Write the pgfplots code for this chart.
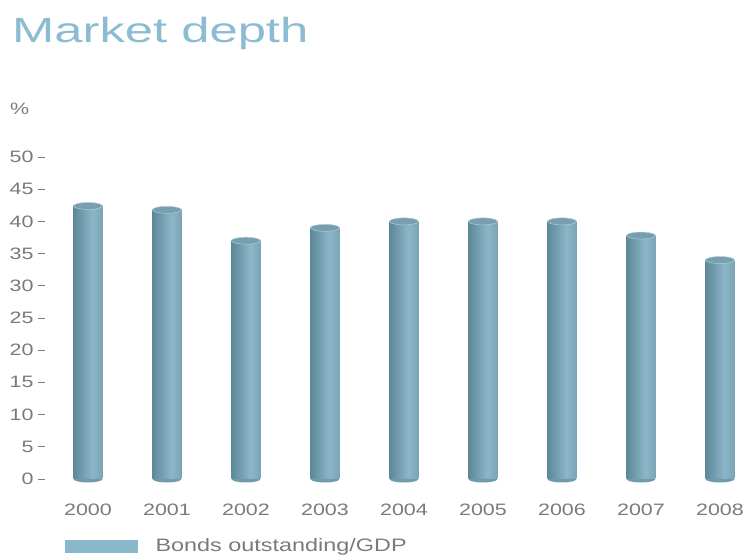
\documentclass[border=0pt]{standalone}
\usepackage{fontspec}
\setmainfont{Liberation Sans}[FakeStretch=1.3]
\newfontfamily\titlefont{Liberation Sans}[FakeStretch=1.45]
\usepackage{pgfplots}
\usepackage{pgfplotstable}
\pgfplotsset{compat=1.18}
\definecolor{titleblue}{HTML}{8CBCD2}
\definecolor{legblue}{HTML}{89B7CC}
\definecolor{cylA}{HTML}{5C889A}
\definecolor{cylB}{HTML}{8DB7C9}
\definecolor{cylC}{HTML}{7AA3B5}
\definecolor{cylTop}{HTML}{779FB0}
\definecolor{txtgray}{HTML}{7A7A7A}
\pgfdeclarehorizontalshading{cyl}{100bp}{color(0bp)=(cylA); color(25bp)=(cylA); color(58bp)=(cylB); color(75bp)=(cylC); color(100bp)=(cylC)}
\pgfdeclareplotmark{cyltop}{%
  \pgfpathellipse{\pgfpointorigin}{\pgfpoint{14.5bp}{0bp}}{\pgfpoint{0bp}{3.5bp}}%
  \pgfusepathqfillstroke}
\pgfdeclareplotmark{cylbottom}{%
  \pgfpathmoveto{\pgfpoint{-14.5bp}{0bp}}%
  \pgfpatharc{180}{360}{14.5bp and 3.5bp}%
  \pgfpathclose
  \pgfusepathqfill}
\pgfplotstableread{
x y z
0 42.4 0
1 41.8 0
2 37.0 0
3 39.0 0
4 40.0 0
5 40.0 0
6 40.0 0
7 37.8 0
8 34.0 0
}\datatable
\begin{document}
\begin{tikzpicture}
\useasboundingbox (0,0) rectangle (747bp,558bp);
\node[anchor=base west, inner sep=0pt, text=titleblue, font=\titlefont\fontsize{35bp}{40bp}\selectfont] at (12bp,515bp) {Market depth};
\node[anchor=base west, inner sep=0pt, text=txtgray, font=\fontsize{16.5bp}{18bp}\selectfont] at (10bp,443bp) {\%};
\begin{axis}[
  at={(45bp,79bp)}, anchor=south west,
  scale only axis,
  width=702bp, height=322bp,
  xmin=-0.544, xmax=8.342,
  ymin=0, ymax=50,
  clip=false,
  axis lines=left,
  axis line style={draw=none},
  xtick={0,...,8},
  xticklabels={2000,2001,2002,2003,2004,2005,2006,2007,2008},
  ytick={0,5,...,50},
  xtick style={draw=none},
  ytick style={draw=txtgray, line width=0.7bp},
  tick align=outside,
  major tick length=7bp,
  tick label style={font=\fontsize{16.5bp}{18bp}\selectfont, text=txtgray},
  /pgf/number format/assume math mode=true,
  xticklabel style={yshift=-14bp},
  yticklabel style={xshift=-1bp},
  legend style={at={(axis description cs:0.0285,-0.208)}, anchor=west, draw=none, fill=none,
    font=\fontsize{18bp}{20bp}\selectfont, text=txtgray, inner sep=0pt,
    /tikz/every odd column/.append style={column sep=16bp}},
]
\addplot[only marks, mark=cylbottom, mark options={fill=cylA!60!cylB}, forget plot] table[x=x, y=z] {\datatable};
\pgfplotsinvokeforeach{0,...,8}{
  \addplot[ybar, bar width=29bp, draw=none, shading=cyl, forget plot,
    x filter/.expression={abs(x-#1)<0.1 ? x : nan}] table[x=x, y=y] {\datatable};
}
\addplot[only marks, mark=cyltop, mark options={fill=cylTop, draw=cylB!70!white, line width=0.5bp}, forget plot] table[x=x, y=y] {\datatable};
\addlegendimage{legend image code/.code={\fill[legblue] (0bp,-6bp) rectangle (72bp,6bp);}}
\addlegendentry{Bonds outstanding/GDP}
\end{axis}
\end{tikzpicture}
\end{document}
